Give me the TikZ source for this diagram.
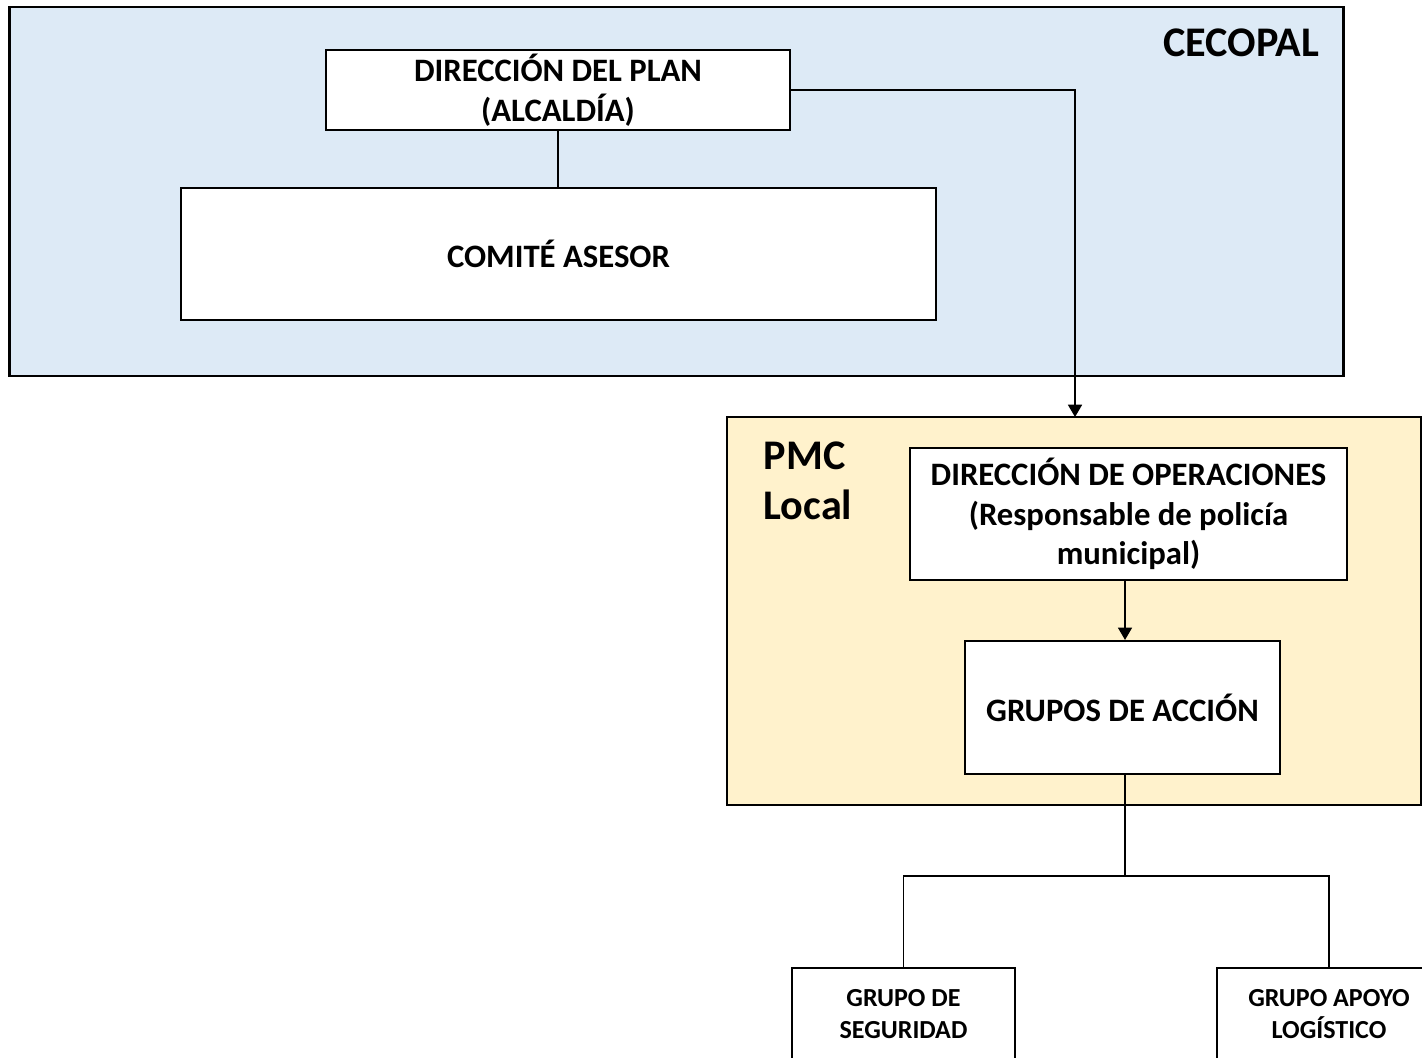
\documentclass[tikz,border=0pt]{standalone}
\usepackage{fontspec}
\setmainfont{Carlito}
\usetikzlibrary{arrows.meta}

\definecolor{cecoblue}{RGB}{221,234,246}
\definecolor{pmcyellow}{RGB}{255,242,204}

\begin{document}
\begin{tikzpicture}[x=0.01cm, y=-0.01cm,
	zone/.style={draw, line width=0.7pt, inner sep=0pt},
	unit/.style={draw, fill=white, line width=0.6pt, align=center, inner sep=0pt,
		font=\bfseries\fontsize{9.3}{11.3}\selectfont},
	small/.style={unit, font=\bfseries\fontsize{7.4}{9.1}\selectfont},
	tag/.style={font=\bfseries\fontsize{12}{14.2}\selectfont, align=left, inner sep=0pt},
	link/.style={line width=0.4pt},
	arr/.style={link, -{Triangle[width=4pt,length=3.5pt]}}]
	\clip (0,0) rectangle (1422,1057);
	
	\node[zone, fill=cecoblue, minimum width=13.33cm, minimum height=3.69cm] (cecopal) at (676.5,191.5) {};
	\node[tag, anchor=east] (cecotag) at (1320,43) {CECOPAL};
	\node[unit, minimum width=4.64cm, minimum height=0.80cm] (plan) at (558,90) {DIRECCIÓN DEL PLAN\\(ALCALDÍA)};
	\node[unit, minimum width=7.55cm, minimum height=1.32cm] (comite) at (558.5,254) {COMITÉ ASESOR};
	
	\node[zone, fill=pmcyellow, minimum width=6.94cm, minimum height=3.88cm] (pmc) at (1074,611) {};
	\node[tag, anchor=west] (pmctag) at (763,481) {PMC\\Local};
	\node[unit, minimum width=4.37cm, minimum height=1.32cm] (ops) at (1128.5,514) {DIRECCIÓN DE OPERACIONES\\(Responsable de policía\\municipal)};
	\node[unit, minimum width=3.15cm, minimum height=1.33cm] (gda) at (1122.5,707.5) {GRUPOS DE ACCIÓN};
	
	\node[small, minimum width=2.23cm, minimum height=0.92cm] (seg) at (903.5,1014) {GRUPO DE\\SEGURIDAD};
	\node[small, minimum width=2.24cm, minimum height=0.92cm] (apoyo) at (1329,1014) {GRUPO APOYO\\LOGÍSTICO};
	
	\coordinate (pmctop) at (1075,417);
	\coordinate (fork) at (1125,876);
	
	\draw[link] (plan.south) -- (plan.south |- comite.north);
	\draw[arr] (plan.east) -| (pmctop);
	\draw[arr] (ops.south -| fork) -- (fork |- gda.north);
	\draw[link] (fork |- gda.south) -- (fork);
	\draw[link] (seg.north) |- (fork) -| (apoyo.north);
\end{tikzpicture}
\end{document}
